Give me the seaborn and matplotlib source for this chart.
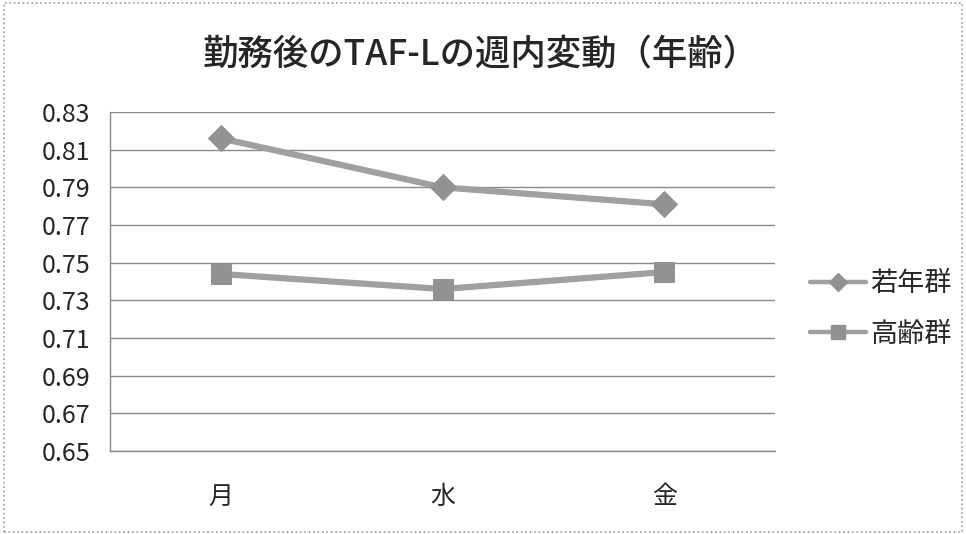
import matplotlib
matplotlib.use("Agg")
import matplotlib.pyplot as plt
import seaborn as sns
import pandas as pd
from matplotlib.lines import Line2D
from matplotlib.patches import Rectangle

categories = ["月", "水", "金"]
young = [0.816, 0.790, 0.781]
old = [0.744, 0.736, 0.745]
series_names = ["若年群", "高齢群"]
yticks = [0.65, 0.67, 0.69, 0.71, 0.73, 0.75, 0.77, 0.79, 0.81, 0.83]
title = "勤務後のTAF-Lの週内変動（年齢）"

sns.set_theme(style="white")
plt.rcParams['font.family'] = ['Noto Sans CJK JP', 'DejaVu Sans']

df = pd.DataFrame({
    "x": list(range(len(categories))) * 2,
    "value": young + old,
    "series": [series_names[0]] * 3 + [series_names[1]] * 3,
})

fig = plt.figure(figsize=(9.66, 5.34), dpi=100)
ax = fig.add_axes([110/966, 1-451/534, (775-110)/966, (451-112)/534])

line_col = "#a0a0a0"
mk_col = "#929292"
sns.lineplot(data=df, x="x", y="value", hue="series", style="series",
             markers={series_names[0]: "D", series_names[1]: "s"},
             dashes=False, palette={series_names[0]: line_col, series_names[1]: line_col},
             linewidth=4.5, markersize=14, markerfacecolor=mk_col, markeredgecolor=mk_col,
             legend=False, ax=ax, zorder=3)
for ln in ax.lines:
    if ln.get_marker() == "D":
        ln.set_markersize(13)
    elif ln.get_marker() == "s":
        ln.set_markersize(14)

ax.set_xlim(-0.5, 2.5)
ax.set_ylim(0.65, 0.83)
ax.set_yticks(yticks)
ax.set_yticklabels([f"{v:.2f}" for v in yticks], fontsize=18)
ax.yaxis.grid(True, color="#8a8a8a", linewidth=1.0)
ax.set_axisbelow(True)
ax.set_xticks([-0.5, 0.5, 1.5, 2.5])
ax.set_xticklabels([])
ax.set_xticks(range(len(categories)), minor=True)
ax.set_xticklabels(categories, minor=True, fontsize=18)
ax.tick_params(axis="x", which="major", direction="out", length=5, color="#8a8a8a", width=1)
ax.tick_params(axis="x", which="minor", length=0, pad=24)
ax.tick_params(axis="y", direction="out", length=8, color="#8a8a8a", width=1, pad=6)
ax.set_xlabel("")
ax.set_ylabel("")
for s in ["top", "right"]:
    ax.spines[s].set_visible(False)
for s in ["left", "bottom"]:
    ax.spines[s].set_color("#8a8a8a")
    ax.spines[s].set_linewidth(1)

fig.text(481/966, 1-55/534, title, ha="center", va="center", fontsize=25.5, fontweight="medium")

handles = [
    Line2D([], [], color=line_col, linewidth=3.2, marker="D", markersize=9,
           markerfacecolor=mk_col, markeredgecolor=mk_col),
    Line2D([], [], color=line_col, linewidth=3.2, marker="s", markersize=10.5,
           markerfacecolor=mk_col, markeredgecolor=mk_col),
]
fig.legend(handles, series_names, loc="center left", bbox_to_anchor=(810/966, 1-309/534),
           frameon=False, fontsize=19.5, handlelength=2.05, handletextpad=0.18,
           labelspacing=0.85, borderpad=0, borderaxespad=0)

fig.patches.append(Rectangle((0.004, 0.004), 0.992, 0.99, transform=fig.transFigure,
                             fill=False, edgecolor="#9a9a9a", linestyle=":", linewidth=1.2))

fig.savefig("out.png", dpi=100)
